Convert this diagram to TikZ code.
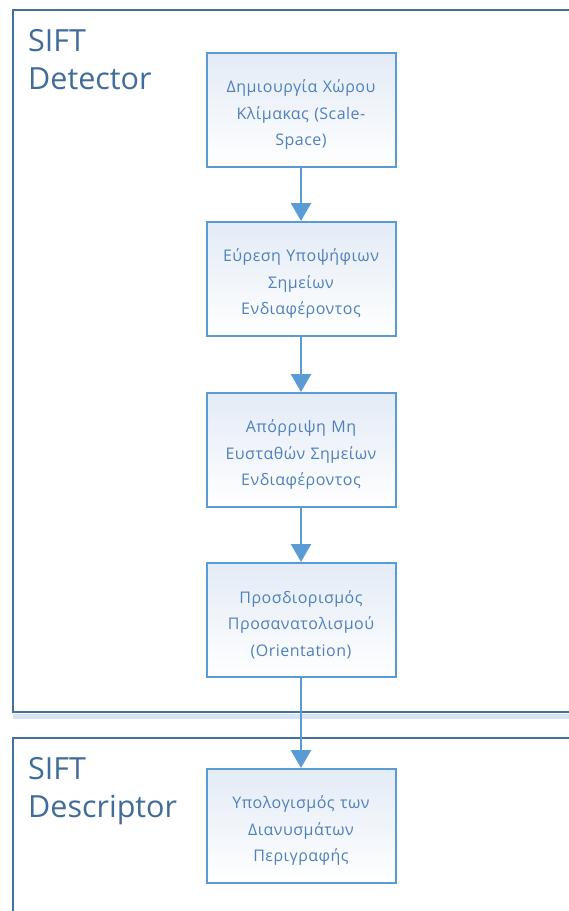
\documentclass[tikz,border=0pt]{standalone}
\usepackage{fontspec}
\setmainfont{Open Sans}
\newfontfamily\stepfont[LetterSpace=3]{Open Sans}
\usetikzlibrary{arrows.meta}
\definecolor{frameblue}{HTML}{41719C}
\definecolor{boxline}{HTML}{5B9BD5}
\definecolor{boxtext}{HTML}{4F81BD}
\definecolor{boxtop}{HTML}{E3EBF6}
\definecolor{titleblue}{HTML}{3F6C9A}
\definecolor{shadowblue}{HTML}{D5E3F2}
\tikzset{
  panel/.style={draw=frameblue, line width=2pt},
  % a tall invisible strut on the first line lowers the text block a little
  stepbox/.style={draw=boxline, line width=2pt, top color=boxtop, bottom color=white,
    minimum width=189pt, minimum height=114pt, text width=185pt, align=center,
    text=boxtext, font=\stepfont\fontsize{16pt}{26.3pt}\selectfont, inner sep=0pt,
    execute at begin node={\rule{0pt}{22pt}}},
  paneltitle/.style={anchor=north west, align=left, text=titleblue,
    font=\fontsize{30.5pt}{38pt}\selectfont, inner sep=0pt},
  flow/.style={draw=boxline, line width=2.5pt, -{Triangle[width=20pt,length=18pt]}}
}
\begin{document}
\begin{tikzpicture}[x=1pt,y=1pt]
\useasboundingbox (0,0) rectangle (569,-911);
\begin{scope}
\clip (0,0) rectangle (569,-911);
% detector panel and its light under-strip
\fill[shadowblue] (13,-714) rectangle (575,-719);
\draw[panel] (580,-10) -- (13,-10) -- (13,-712) -- (580,-712);
% descriptor panel
\draw[panel] (580,-738) -- (13,-738) -- (13,-920);
\end{scope}

\node[paneltitle] (t1) at (28,-29) {SIFT\\Detector};
\node[paneltitle] (t2) at (28,-757) {SIFT\\Descriptor};

\node[stepbox] (b1) at (301,-110) {Δημιουργία Χώρου\\Κλίμακας (Scale-\\Space)};
\node[stepbox] (b2) at (301,-279) {Εύρεση Υποψήφιων\\Σημείων\\Ενδιαφέροντος};
\node[stepbox] (b3) at (301,-450) {Απόρριψη Μη\\Ευσταθών Σημείων\\Ενδιαφέροντος};
\node[stepbox] (b4) at (301,-620) {Προσδιορισμός\\Προσανατολισμού\\(Orientation)};
\node[stepbox] (b5) at (301,-826) {Υπολογισμός των\\Διανυσμάτων\\Περιγραφής};

\draw[flow] (b1) -- (b2);
\draw[flow] (b2) -- (b3);
\draw[flow] (b3) -- (b4);
\draw[flow] (b4) -- (b5);
\end{tikzpicture}
\end{document}
